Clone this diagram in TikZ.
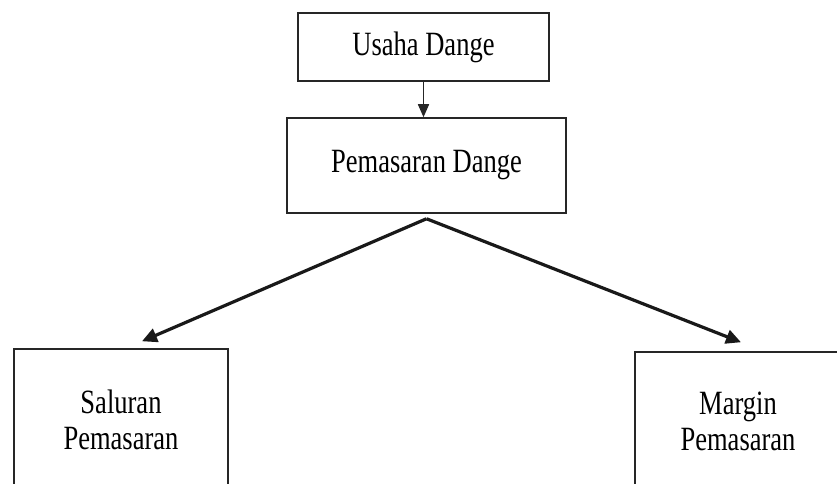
\documentclass[tikz,border=0pt]{standalone}
\usepackage{fontspec}
\setmainfont[FakeStretch=0.78]{Liberation Serif}
\usetikzlibrary{arrows.meta}
\begin{document}
\begin{tikzpicture}[x=1pt,y=-1pt,
  box/.style={draw=black!85, line width=1.5pt, rectangle, inner sep=0pt,
    align=center, font=\fontsize{34}{36}\selectfont},
  thinarrow/.style={draw=black!85, line width=1.5pt, -{Triangle[length=13pt,width=11pt]}},
  thickarrow/.style={draw=black!90, line width=3.2pt, -{Triangle[length=15pt,width=14pt]}}]
  \clip (0,0) rectangle (837,484);
  \fill[white] (0,0) rectangle (837,484);

  \node[box, minimum width=251pt, minimum height=68pt] (usaha) at (423.5,47) {Usaha Dange};
  \node[box, minimum width=279pt, minimum height=95pt] (pemasaran) at (426.5,165.5) {Pemasaran Dange};
  \node[box, minimum width=214pt, minimum height=142pt] (saluran) at (121,420) {Saluran\\Pemasaran};
  \node[box, minimum width=206pt, minimum height=138pt] (margin) at (738,421) {Margin\\Pemasaran};

  % fan-out point just below the middle box, arrow tips just above the lower boxes
  \coordinate (split) at ([yshift=-5pt]pemasaran.south);
  \coordinate (tipL) at ([xshift=21pt,yshift=7pt]saluran.north);
  \coordinate (tipR) at ([xshift=3pt,yshift=9pt]margin.north);

  \draw[thinarrow] (usaha.south) -- (usaha.south |- pemasaran.north);
  \draw[thickarrow] (split) -- (tipL);
  \draw[thickarrow] (split) -- (tipR);
\end{tikzpicture}
\end{document}
